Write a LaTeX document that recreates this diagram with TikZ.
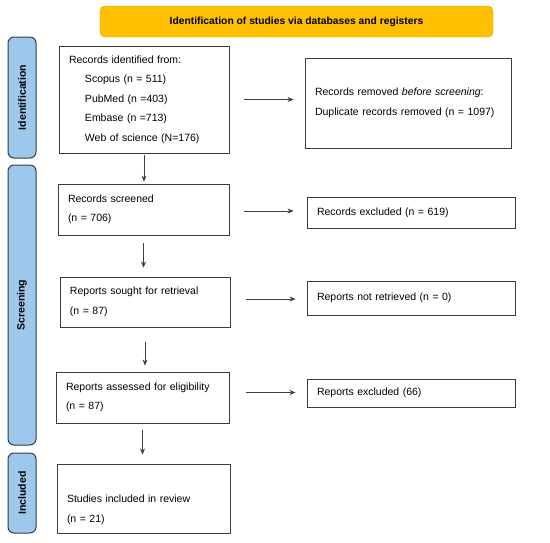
\documentclass[tikz,border=0pt]{standalone}
\usepackage{fontspec}
\setmainfont{Liberation Sans}
\usetikzlibrary{arrows.meta, positioning, calc}
\definecolor{bannerfill}{RGB}{254,192,0}
\definecolor{bannerdraw}{RGB}{214,160,0}
\definecolor{phasefill}{RGB}{157,200,236}
\definecolor{phasedraw}{RGB}{50,60,72}
\definecolor{boxdraw}{RGB}{60,60,60}
\tikzset{
    banner/.style = {rectangle, rounded corners=5pt, minimum width=393pt, minimum height=31pt, text centered, draw=bannerdraw, fill=bannerfill, font=\fontsize{10.3}{12}\selectfont\bfseries},
    phase/.style = {rectangle, rounded corners=6pt, minimum width=28pt, draw=phasedraw, line width=1pt, fill=phasefill},
    phasetext/.style = {rotate=90, font=\fontsize{10.5}{12}\selectfont\bfseries},
    record/.style = {rectangle, draw=boxdraw, line width=0.9pt, inner xsep=10pt, align=left, font=\fontsize{10.5}{19.5}\selectfont},
    arrow/.style = {draw=black!75, line width=0.6pt, -{Stealth[length=6pt, width=5pt]}}
}
\begin{document}
\begin{tikzpicture}[x=1pt, y=-1pt]
\useasboundingbox (0,0) rectangle (550,542);

% --- HEADER ---
\node (head) [banner] at (296.5,21.5) {Identification of studies via databases and registers};

% --- PHASE BARS ---
\node (ident) [phase, minimum height=121pt] at (22,97.5) {};
\node [phasetext] at (ident.center) {Identification};
\node (screen) [phase, minimum height=280pt] at (22,305) {};
\node [phasetext] at (screen.center) {Screening};
\node (incl) [phase, minimum height=80pt] at (22,493) {};
\node [phasetext] at (incl.center) {Included};

% --- LEFT COLUMN ---
\node (found) [record, minimum width=170pt, minimum height=107pt, text width=150pt] at (144,99.5)
    {Records identified from:\\
     \hspace*{16pt}Scopus (n = 511)\\
     \hspace*{16pt}PubMed (n =403)\\
     \hspace*{16pt}Embase (n =713)\\
     \hspace*{16pt}Web of science (N=176)};
\node (screened) [record, minimum width=171pt, minimum height=51pt, text width=151pt] at (143.5,209.5)
    {Records screened\\(n = 706)};
\node (sought) [record, minimum width=170pt, minimum height=50pt, text width=150pt] at (145,302)
    {Reports sought for retrieval\\(n = 87)};
\node (assessed) [record, minimum width=173pt, minimum height=51pt, text width=153pt] at (142.5,397.5)
    {Reports assessed for eligibility\\(n = 87)};
\node (studies) [record, minimum width=173pt, minimum height=69pt, text width=153pt] at (143.5,498.5)
    {\mbox{}\\[11pt]Studies included in review\\(n = 21)};

% --- RIGHT COLUMN ---
\node (dupes) [record, minimum width=206pt, minimum height=90pt, text width=186pt] at (408,103)
    {Records removed \textit{before screening}:\\Duplicate records removed (n = 1097)};
\node (excl) [record, minimum width=208pt, minimum height=31pt, text width=188pt] at (411,212.5)
    {Records excluded (n = 619)};
\node (notret) [record, minimum width=208pt, minimum height=34pt, text width=188pt] at (411,298)
    {Reports not retrieved (n = 0)};
\node (rexcl) [record, minimum width=208pt, minimum height=28pt, text width=188pt] at (411,393)
    {Reports excluded (66)};

% --- CONNECTIONS ---
\draw [arrow, shorten <=2pt, shorten >=2pt] (found.south) -- (found.south |- screened.north);
\draw [arrow, shorten <=8pt, shorten >=9pt] (screened.south) -- (screened.south |- sought.north);
\draw [arrow, shorten <=15pt, shorten >=6pt] (sought.south) -- (sought.south |- assessed.north);
\draw [arrow, shorten <=7pt, shorten >=9pt] (assessed.south) -- (assessed.south |- studies.north);

\draw [arrow, shorten <=15pt, shorten >=11pt] (found.east) -- (found.east -| dupes.west);
\draw [arrow, shorten <=15pt, shorten >=13pt] ($(screened.east)+(0,1.5)$) -- ($(screened.east -| excl.west)+(0,1.5)$);
\draw [arrow, shorten <=16pt, shorten >=11pt] ($(sought.east)+(0,-3)$) -- ($(sought.east -| notret.west)+(0,-3)$);
\draw [arrow, shorten <=17pt, shorten >=11pt] ($(assessed.east)+(0,-5)$) -- ($(assessed.east -| rexcl.west)+(0,-5)$);

\end{tikzpicture}
\end{document}
